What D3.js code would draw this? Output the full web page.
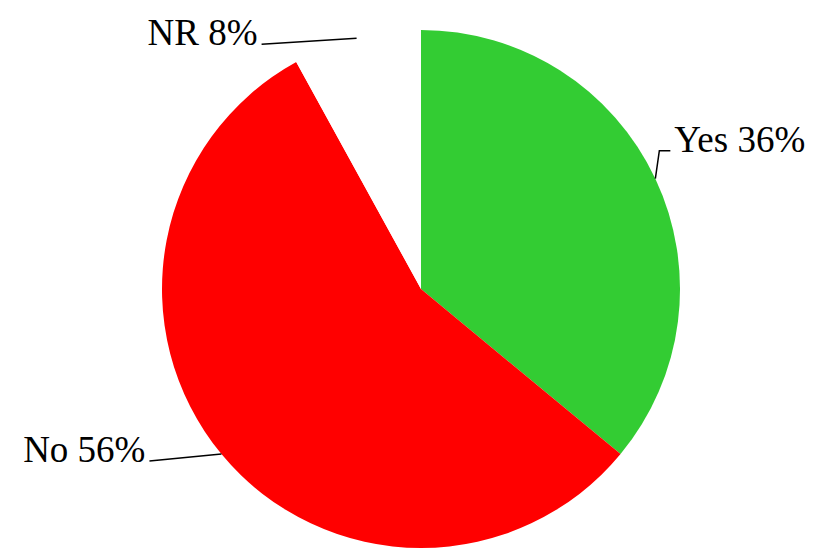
<!doctype html>
<html>
<head>
  <script src="https://d3js.org/d3.v7.min.js"></script>
</head>
<body style="margin:0px;background:#fff">
<script>

var labels = ["Yes", "No", "NR"];
var values = [36, 56, 8];
var colors = ["#33cc33", "#ff0000", "#ffffff"];

// label placement relative to the slice mid point: [elbow dx, elbow dy, end dx, end dy]
var leaders = [[4, -28, 15, -28], [-72, 7, -72, 7], [-95, 6, -95, 6]];

var w = 827, h = 555;
var cx = 421, cy = 289, r = 259;

var svg = d3.select("body").append("svg").attr("width", w).attr("height", h);
var g = svg.append("g").attr("transform", "translate(" + cx + "," + cy + ")");

var pie = d3.pie().sort(null).value(function(d){ return d; });
var arcs = pie(values);
var arc = d3.arc().innerRadius(0).outerRadius(r);

g.selectAll("path")
  .data(arcs)
  .enter()
  .append("path")
    .attr("d", arc)
    .attr("fill", function(d,i){ return colors[i]; });

arcs.forEach(function(d,i){
  var a = (d.startAngle + d.endAngle) / 2;
  var x0 = r * Math.sin(a), y0 = -r * Math.cos(a);
  var L = leaders[i];
  var pts = [[x0, y0], [x0 + L[0], y0 + L[1]], [x0 + L[2], y0 + L[3]]];
  g.append("path")
    .attr("d", d3.line()(pts))
    .attr("fill", "none")
    .attr("stroke", "#000")
    .attr("stroke-width", 1.5);
  var right = L[2] > 0;
  g.append("text")
    .attr("x", pts[2][0] + (right ? 4 : -4))
    .attr("y", pts[2][1] + 1)
    .attr("text-anchor", right ? "start" : "end")
    .style("font-family", "'Liberation Serif', serif")
    .style("font-size", "37px")
    .attr("fill", "#000")
    .text(labels[i] + " " + values[i] + "%");
});

</script>
</body>
</html>
